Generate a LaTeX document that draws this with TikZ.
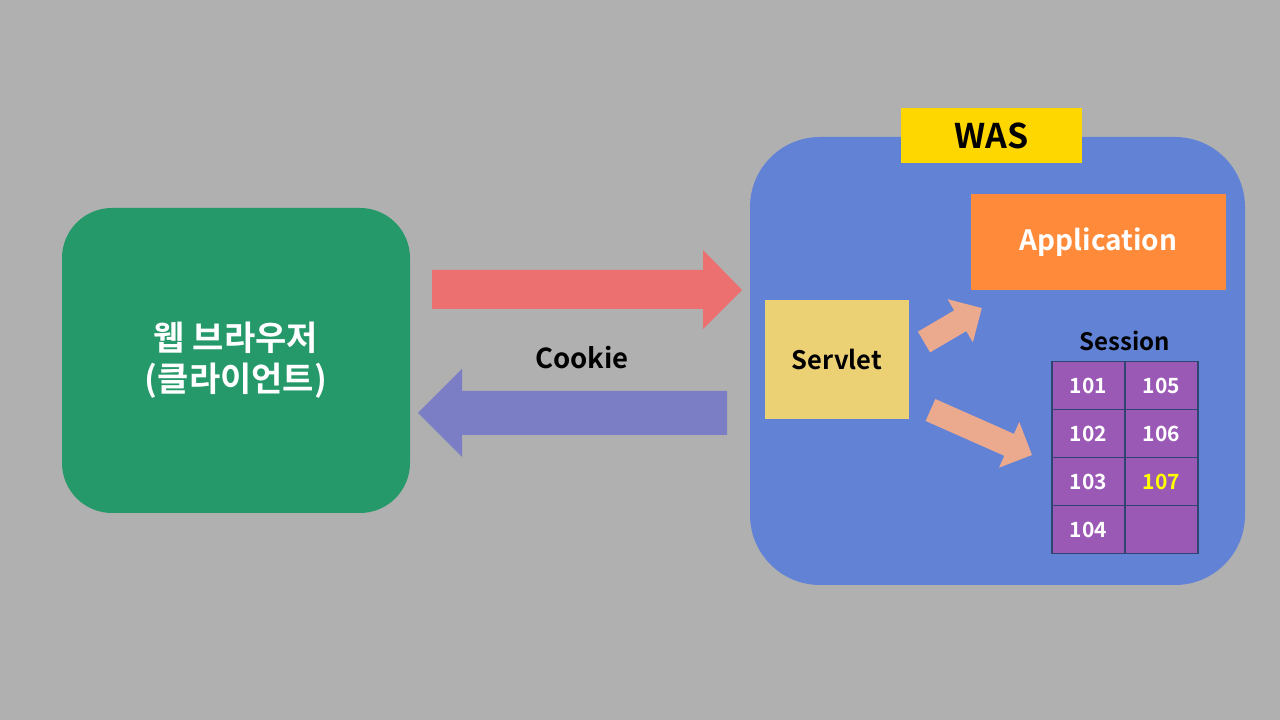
\documentclass[tikz,border=0pt]{standalone}
\usepackage{fontspec}
\setmainfont{Noto Sans CJK KR}[BoldFont={Noto Sans CJK KR Bold}]
\usetikzlibrary{calc}
\definecolor{bg}{RGB}{176,176,176}
\definecolor{webgreen}{RGB}{38,153,106}
\definecolor{reqred}{RGB}{236,112,112}
\definecolor{resblue}{RGB}{123,126,196}
\definecolor{wasblue}{RGB}{98,130,214}
\definecolor{wasyellow}{RGB}{255,215,0}
\definecolor{apporange}{RGB}{255,138,58}
\definecolor{servyellow}{RGB}{235,209,116}
\definecolor{smallarrow}{RGB}{235,170,142}
\definecolor{cellpurple}{RGB}{155,89,182}
\definecolor{celledge}{RGB}{47,68,112}
\definecolor{hiyellow}{RGB}{255,255,0}
\tikzset{
  lbl/.style={font=\bfseries, inner sep=0pt},
  cellbox/.style={fill=cellpurple, draw=celledge, line width=1.5pt, minimum width=73pt, minimum height=48pt, inner sep=0pt, anchor=north west, text=white, font=\bfseries\fontsize{21}{25}\selectfont},
  pics/fatarrow/.style args={#1/#2/#3/#4}{code={
    \fill[smallarrow] (0,-#2) -- ({#1-#4},-#2) -- ({#1-#4},-#3) -- (#1,0) -- ({#1-#4},#3) -- ({#1-#4},#2) -- (0,#2) -- cycle;
  }}
}
\begin{document}
\begin{tikzpicture}[x=1pt,y=1pt]
\fill[bg] (0,0) rectangle (1280,720);
\useasboundingbox (0,0) rectangle (1280,720);
% web browser
\node[fill=webgreen, rounded corners=50pt, minimum width=348pt, minimum height=305pt, inner sep=0pt] (web) at (236,359.5) {};
\node[lbl, text=white, align=center, font=\bfseries\fontsize{34}{41}\selectfont] (webtxt) at (236,360) {웹 브라우저\\(클라이언트)};
% big arrows
\fill[reqred] (432,450) -- (703,450) -- (703,470) -- (742,430) -- (703,391) -- (703,411) -- (432,411) -- cycle;
\fill[resblue] (727,329) -- (462,329) -- (462,351) -- (418,307) -- (462,263) -- (462,285) -- (727,285) -- cycle;
\node[lbl, font=\bfseries\fontsize{27.5}{32}\selectfont] (cookie) at (582,362) {Cookie};
% WAS
\node[fill=wasblue, rounded corners=70pt, minimum width=495pt, minimum height=448pt, inner sep=0pt] (was) at (997.5,359) {};
\node[fill=wasyellow, minimum width=181pt, minimum height=55pt, inner sep=0pt, font=\bfseries\fontsize{34}{38}\selectfont] (waslbl) at (991.5,584.5) {WAS};
\node[fill=apporange, minimum width=255pt, minimum height=96pt, inner sep=0pt, text=white, font=\bfseries\fontsize{28}{32}\selectfont] (app) at (1098.5,478) {Application};
\node[fill=servyellow, minimum width=144pt, minimum height=119pt, inner sep=0pt, font=\bfseries\fontsize{25.5}{30}\selectfont] (servlet) at (837,360.5) {Servlet};
\pic[rotate=30.4] at (924,378) {fatarrow={67/12/25/25}};
\pic[rotate=-23.9] at (930.5,310) {fatarrow={111/12/25/25}};
% session
\node[lbl, font=\bfseries\fontsize{24}{28}\selectfont] (sesslbl) at (1125,379) {Session};
\node[cellbox] (c101) at (1051,359) {101};
\node[cellbox] (c105) at (1124,359) {105};
\node[cellbox] (c102) at (1051,311) {102};
\node[cellbox] (c106) at (1124,311) {106};
\node[cellbox] (c103) at (1051,263) {103};
\node[cellbox, text=hiyellow] (c107) at (1124,263) {107};
\node[cellbox] (c104) at (1051,215) {104};
\node[cellbox] (c108) at (1124,215) {};
\end{tikzpicture}
\end{document}
